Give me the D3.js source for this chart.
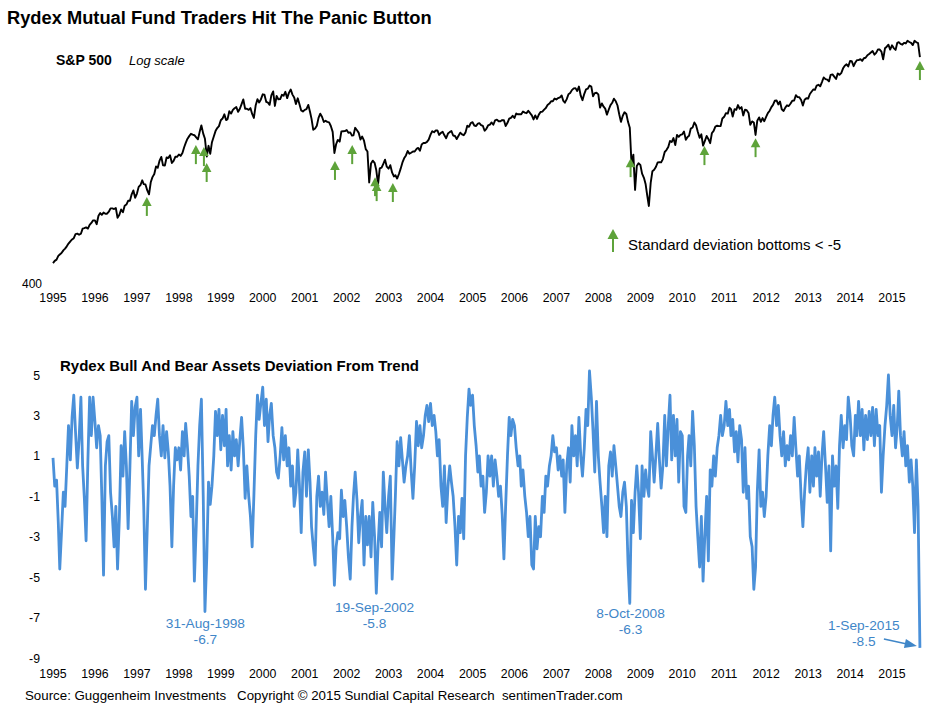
<!DOCTYPE html>
<html>
<head>
<meta charset="utf-8">
<script src="https://cdn.jsdelivr.net/npm/d3@7"></script>
<style>
  body { margin: 0; background: #fff; }
  text { font-family: "Liberation Sans", Arial, Helvetica, sans-serif; }
</style>
</head>
<body>
<div id="chart-area"></div>
<script>
// S&P 500, two readings per month (1st and 16th), Jan 1995 .. 1 Sep 2015
const sp500 = [
  459,466,470,482,487,492,501,507,515,525,533,540,545,560,562,558,562,582,584,587,582,597,605,616,
  616,600,636,648,640,650,645,645,654,669,669,666,671,627,640,664,652,681,687,705,705,737,757,720,
  741,776,786,812,791,789,757,737,801,830,848,893,885,928,954,900,899,950,947,965,915,928,955,955,
  970,961,980,1020,1049,1080,1101,1119,1112,1108,1091,1077,1134,1186,1120,1081,957,1030,975,1056,1098,1140,1164,1180,
  1229,1243,1280,1230,1238,1307,1286,1320,1335,1345,1302,1330,1373,1418,1329,1330,1320,1336,1283,1248,1363,1420,1389,1418,
  1469,1465,1394,1387,1366,1458,1499,1356,1452,1420,1421,1464,1455,1495,1431,1484,1518,1466,1437,1374,1429,1372,1315,1305,
  1320,1326,1366,1301,1240,1150,1160,1183,1249,1285,1256,1214,1224,1215,1211,1181,1134,980,1041,1073,1060,1138,1139,1140,
  1148,1127,1130,1105,1107,1166,1147,1126,1076,1098,1067,1007,990,800,912,930,916,870,790,881,886,910,936,892,
  880,901,856,834,841,822,848,880,917,945,964,994,975,982,990,990,1008,1015,996,1040,1051,1050,1058,1075,
  1112,1139,1131,1145,1145,1110,1126,1134,1107,1085,1121,1132,1141,1106,1102,1079,1104,1128,1115,1108,1130,1183,1174,1205,
  1212,1185,1181,1200,1204,1188,1181,1143,1157,1185,1192,1210,1191,1228,1234,1220,1220,1230,1229,1180,1207,1242,1249,1267,
  1248,1287,1280,1280,1281,1305,1295,1290,1311,1292,1270,1235,1270,1240,1277,1300,1304,1322,1336,1365,1378,1400,1401,1427,
  1418,1431,1438,1457,1407,1387,1421,1470,1482,1512,1531,1533,1503,1550,1455,1411,1474,1520,1527,1560,1549,1450,1481,1485,
  1468,1340,1379,1349,1331,1277,1323,1364,1386,1425,1400,1360,1280,1215,1267,1298,1283,1213,1166,907,969,760,896,913,
  903,850,826,790,735,680,798,865,873,890,919,920,919,940,987,1000,1021,1065,1057,1087,1036,1110,1096,1110,
  1115,1136,1074,1095,1104,1160,1169,1210,1187,1135,1089,1115,1031,1064,1102,1080,1049,1125,1141,1176,1183,1180,1181,1243,
  1258,1290,1286,1340,1327,1260,1326,1320,1364,1330,1345,1270,1321,1317,1292,1190,1219,1210,1110,1225,1253,1215,1247,1220,
  1258,1290,1312,1345,1366,1405,1408,1370,1398,1325,1310,1340,1362,1355,1379,1405,1407,1460,1441,1440,1412,1360,1416,1430,
  1426,1472,1498,1520,1515,1560,1569,1552,1598,1650,1631,1625,1606,1680,1686,1660,1633,1697,1682,1700,1757,1790,1806,1780,
  1848,1845,1783,1830,1859,1860,1872,1850,1884,1890,1924,1940,1960,1980,1931,1955,2003,2000,1972,1870,2018,2040,2068,2000,
  2059,2020,1995,2095,2105,2080,2068,2095,2086,2125,2107,2095,2063,2125,2104,2090,1900
];

// Rydex bull/bear assets deviation from trend, same dates
const deviation = [
  0.9,-0.5,-0.2,-2.3,-4.6,-2.8,-0.8,-1.5,0.5,2.5,0.8,2.9,4.0,2.2,0.4,1.8,3.9,0.5,-1.1,-3.2,0.8,3.9,2.0,3.9,
  2.7,1.4,2.5,2.0,-1.0,-4.9,0.5,1.7,2.0,-0.8,-2.0,-3.5,-1.5,-4.6,-2.0,1.5,0.0,2.2,0.5,-2.6,0.5,3.7,2.0,3.4,
  3.9,1.0,3.3,0.8,-1.5,-5.6,-2.5,0.5,1.5,2.5,2.0,3.0,3.8,2.0,1.0,2.5,0.9,2.2,1.2,-0.5,-3.5,-0.5,1.4,0.8,
  1.4,0.3,2.2,1.0,2.6,1.5,0.0,-2.0,-1.0,-5.2,-2.5,0.5,2.5,3.8,-1.0,-6.7,-4.0,-0.3,-1.4,-0.5,1.0,3.2,2.0,3.3,
  1.3,3.0,1.5,3.3,0.5,2.0,0.3,2.2,1.0,1.8,0.5,1.8,2.9,1.4,-1.1,0.5,-1.0,-2.0,-3.5,-1.0,2.0,4.0,2.8,3.6,
  4.4,2.5,3.8,1.7,3.0,3.6,2.0,1.4,0.2,-0.1,1.0,2.4,0.8,2.0,0.5,1.4,-0.5,0.5,-1.5,-0.8,1.3,-0.5,-2.8,0.2,
  1.2,-1.0,1.3,-0.3,-2.5,-3.5,-4.4,-1.0,0.0,-1.5,-0.8,-1.9,0.2,-1.2,-2.5,-1.0,-3.0,-5.4,-3.5,-2.8,-3.1,-0.7,-2.0,-1.2,
  -2.5,-4.0,-5.1,-2.5,-1.0,0.2,-1.2,-3.3,-2.0,-1.2,-4.4,-2.0,-3.4,-2.0,-4.0,-1.3,-3.0,-5.8,-3.5,-1.8,-3.5,0.2,-1.5,-2.8,
  -1.0,0.0,-5.1,-3.0,-1.0,1.7,0.5,1.9,0.8,-0.3,0.5,1.0,2.0,0.3,-1.1,0.5,2.7,1.5,2.5,1.4,2.0,3.0,3.5,2.7,
  3.6,2.5,3.0,2.2,1.0,1.8,-0.5,-1.5,0.5,-2.3,-0.5,0.5,-0.3,-1.0,-2.5,-4.4,-2.0,-2.8,-1.1,-3.1,1.0,2.9,4.3,3.5,
  4.0,2.5,1.5,0.2,1.0,-0.5,0.0,-1.8,-0.8,1.0,0.0,1.0,-0.5,0.8,0.0,-1.0,-0.5,-1.9,-4.1,-1.5,1.0,2.9,2.0,2.8,
  2.5,1.4,0.5,1.0,-0.5,0.3,-1.0,-1.8,-3.0,-2.0,-4.4,-4.6,-2.0,-3.6,-2.5,-3.0,-1.0,-1.8,0.0,-0.5,0.5,1.0,2.0,1.2,
  1.4,0.3,1.0,0.0,0.8,-1.8,0.5,1.4,-0.3,2.5,1.0,2.0,0.5,2.9,1.0,0.0,1.4,3.3,2.5,5.2,3.9,2.2,0.2,3.7,
  1.0,-0.3,-1.5,-2.8,-1.0,-3.0,0.5,1.2,0.0,1.5,0.5,-0.5,-1.5,-2.0,-0.8,-0.3,-1.5,-4.4,-6.3,-1.2,-2.8,-0.8,0.5,-0.8,
  -3.1,0.5,-1.0,0.3,-0.5,-1.0,2.2,1.0,-0.3,1.0,2.6,0.8,-0.6,0.5,3.0,0.5,2.5,4.0,0.8,3.0,1.0,2.8,-0.3,2.2,
  2.0,-1.5,-1.8,1.0,2.0,0.5,3.2,1.5,-1.5,-3.0,-4.5,-2.0,-5.2,-3.0,-1.0,-4.2,0.3,-0.5,1.0,0.0,1.4,2.0,3.0,2.0,
  2.5,3.7,2.5,3.3,2.0,2.8,1.2,2.2,0.7,2.5,1.8,-0.8,1.4,-1.1,-0.5,-3.0,-3.5,-5.6,-4.5,-0.8,1.3,-1.5,-0.8,-2.0,
  -1.0,1.0,2.5,1.5,3.0,3.9,2.5,3.5,2.0,1.0,2.2,0.5,1.5,0.8,2.0,1.0,2.9,1.4,0.0,1.0,-1.1,-2.5,-0.8,0.5,
  1.4,-0.8,1.0,-0.5,1.4,0.0,1.2,-1.0,1.0,2.2,0.5,-1.3,0.5,-3.7,1.0,-0.5,0.5,-1.6,1.5,3.0,1.4,2.5,1.8,3.9,
  3.0,1.5,1.0,3.0,2.0,3.7,2.0,3.3,1.3,3.0,1.8,3.2,2.0,3.4,1.5,3.3,2.0,2.5,-0.8,1.0,2.5,3.5,5.0,3.0,
  2.0,3.5,1.4,2.5,4.2,2.0,1.0,2.2,0.5,1.5,-0.3,0.8,-0.5,-2.8,0.8,-1.5,-8.5
];

const years = d3.range(1995, 2016);
const devTicks = [5, 3, 1, -1, -3, -5, -7, -9];

// bottoms where the deviation fell below -5: date and S&P level at the arrow tip
const arrowDates = ["1997-03-28", "1998-05-29", "1998-08-07", "1998-08-31", "2001-09-21",
  "2002-02-18", "2002-09-05", "2002-09-19", "2003-02-07", "2008-10-08", "2010-07-13",
  "2011-10-01", "2015-09-01"];
const arrowTips = [724, 1035, 1021, 915, 928, 1035, 830, 802, 797, 946, 1028, 1086, 1848];

const callouts = [
  { date: "1998-08-20", lines: ["31-Aug-1998", "-6.7"], at: -7.5 },
  { date: "2002-09-01", lines: ["19-Sep-2002", "-5.8"], at: -6.7 },
  { date: "2008-10-08", lines: ["8-Oct-2008", "-6.3"], at: -7.0 },
  { date: "2014-05-01", lines: ["1-Sep-2015", "-8.5"], at: -7.6 }
];

const parse = d3.timeParse("%Y-%m-%d");
const dateAt = i => new Date(1995 + Math.floor(i / 24), Math.floor((i % 24) / 2), i % 2 ? 16 : 1);

const W = 939, H = 713;
const svg = d3.select("#chart-area").append("svg")
    .attr("width", W).attr("height", H);

const x = d3.scaleTime()
    .domain([new Date(1995, 0, 1), new Date(2015, 0, 1)])
    .range([53, 892]);

const ySp = d3.scaleLog()
    .domain([400, 2500])
    .range([283, 17.2]);

const yDev = d3.scaleLinear()
    .domain([-9, 5])
    .range([658, 375]);

const green = "#5ea33a";
const blue = "#4a90d9";
const blueText = "#3f86c8";

// titles
svg.append("text").attr("x", 7).attr("y", 24)
    .attr("font-size", 18.3).attr("font-weight", "bold")
    .text("Rydex Mutual Fund Traders Hit The Panic Button");

svg.append("text").attr("x", 56).attr("y", 65)
    .attr("font-size", 14).attr("font-weight", "bold")
    .text("S&P 500");
svg.append("text").attr("x", 129).attr("y", 65)
    .attr("font-size", 13).attr("font-style", "italic")
    .text("Log scale");

// top panel axes (labels only)
svg.append("text").attr("x", 42).attr("y", ySp(400) + 5)
    .attr("text-anchor", "end").attr("font-size", 12).text("400");

svg.append("g").selectAll("text").data(years).enter().append("text")
    .attr("x", d => x(new Date(d, 0, 1)))
    .attr("y", 302)
    .attr("text-anchor", "middle").attr("font-size", 12.3)
    .text(d => d);

// S&P line
const spLine = d3.line()
    .x((d, i) => x(dateAt(i)))
    .y(d => ySp(d));

svg.append("path").datum(sp500)
    .attr("d", spLine)
    .attr("fill", "none").attr("stroke", "#000")
    .attr("stroke-width", 1.9).attr("stroke-linejoin", "round");

// green arrows
function arrow(g, len, head, hw) {
    g.append("path")
        .attr("d", `M0,0L${-hw},${head}L${hw},${head}Z`)
        .attr("fill", green);
    g.append("rect")
        .attr("x", -1).attr("y", head - 1).attr("width", 2).attr("height", len - head + 1)
        .attr("fill", green);
}

arrowDates.forEach((d, i) => {
    const g = svg.append("g")
        .attr("transform", `translate(${x(parse(d))},${ySp(arrowTips[i])})`);
    arrow(g, 19, 9, 4.8);
});

// legend
const lg = svg.append("g").attr("transform", "translate(613,229)");
arrow(lg, 23, 10, 5.5);
svg.append("text").attr("x", 628).attr("y", 250)
    .attr("font-size", 15).text("Standard deviation bottoms < -5");

// bottom panel
svg.append("text").attr("x", 60).attr("y", 371)
    .attr("font-size", 15).attr("font-weight", "bold")
    .text("Rydex Bull And Bear Assets Deviation From Trend");

svg.append("g").selectAll("text").data(devTicks).enter().append("text")
    .attr("x", 40).attr("y", d => yDev(d) + 4.5)
    .attr("text-anchor", "end").attr("font-size", 12.3)
    .text(d => d);

svg.append("g").selectAll("text").data(years).enter().append("text")
    .attr("x", d => x(new Date(d, 0, 1)))
    .attr("y", 678)
    .attr("text-anchor", "middle").attr("font-size", 12.3)
    .text(d => d);

const devLine = d3.line()
    .x((d, i) => x(dateAt(i)))
    .y(d => yDev(d));

svg.append("path").datum(deviation)
    .attr("d", devLine)
    .attr("fill", "none").attr("stroke", blue)
    .attr("stroke-width", 2.8).attr("stroke-linejoin", "round");

// callouts
callouts.forEach(c => {
    const t = svg.append("text")
        .attr("text-anchor", "middle").attr("font-size", 13.7).attr("fill", blueText);
    c.lines.forEach((s, k) => {
        t.append("tspan")
            .attr("x", x(parse(c.date)))
            .attr("y", yDev(c.at) + k * 16)
            .text(s);
    });
});

// pointer to the last reading
const lastI = deviation.length - 1;
const px = x(dateAt(lastI)) - 3, py = yDev(deviation[lastI]) - 2;
svg.append("line")
    .attr("x1", px - 33).attr("y1", py - 7)
    .attr("x2", px - 10).attr("y2", py - 2)
    .attr("stroke", blueText).attr("stroke-width", 1.5);
svg.append("path")
    .attr("d", `M${px},${py}L${px - 11},${py - 7}L${px - 13},${py + 2}Z`)
    .attr("fill", blueText);

// footer
svg.append("text").attr("x", 25).attr("y", 700)
    .attr("font-size", 13.3)
    .attr("xml:space", "preserve").style("white-space", "pre")
    .text("Source: Guggenheim Investments   Copyright \u00a9 2015 Sundial Capital Research  sentimenTrader.com");
</script>
</body>
</html>
